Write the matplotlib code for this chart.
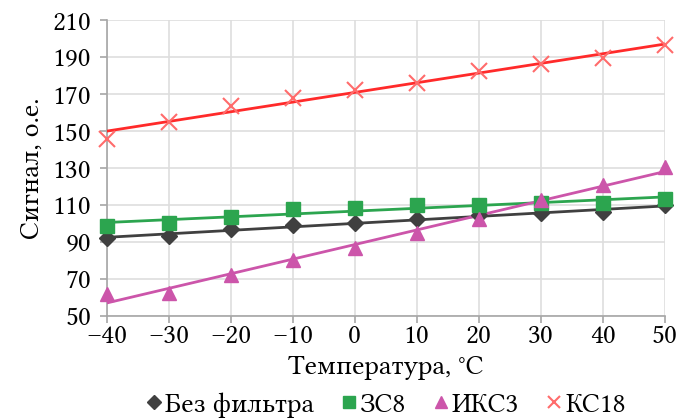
import numpy as np
import matplotlib
matplotlib.use("Agg")
import matplotlib.pyplot as plt
from matplotlib.lines import Line2D

plt.rcParams["font.family"] = ["Libertinus Serif", "Noto Serif", "DejaVu Serif"]

# ----------------------------------------------------------------------
# Data
# ----------------------------------------------------------------------
temps = [-40, -30, -20, -10, 0, 10, 20, 30, 40, 50]
no_filter = [92, 93.5, 97, 99, 100, 102.5, 104.5, 105.5, 106, 110]
zs8 = [98.5, 100.5, 103.5, 108, 108.5, 110, 110, 111, 111, 113.5]
iks3 = [62, 62.5, 72, 80.5, 87, 95, 102.5, 112.5, 121, 130.5]
ks18 = [145.5, 155, 163.5, 168, 172, 176, 182.5, 186.5, 189.5, 196.5]

labels = ["Без фильтра", "ЗС8", "ИКС3", "КС18"]
yticks = [50, 70, 90, 110, 130, 150, 170, 190, 210]

# Styling
GRAY_DARK = "#404040"
GREEN = "#2ca54f"
PINK = "#cc55aa"
RED = "#ff2a2a"
RED_LIGHT = "#ff6b6b"
GRID = "#dedede"
FS = 20

series = [
    (no_filter, GRAY_DARK, GRAY_DARK, "D", 8),
    (zs8, GREEN, GREEN, "s", 10),
    (iks3, PINK, PINK, "^", 10),
    (ks18, RED, RED_LIGHT, "x", 11),
]

fig = plt.figure(figsize=(6.81, 4.19), dpi=100)
ax = fig.add_axes([0.157, 0.246, 0.819, 0.706])

x = np.array(temps, dtype=float)
handles = []
for vals, lc, mc, mk, ms in series:
    y = np.array(vals, dtype=float)
    k, b = np.polyfit(x, y, 1)
    ax.plot(x, k * x + b, color=lc, lw=2, zorder=3)
    ax.plot(x, y, ls="none", marker=mk, ms=ms, color=mc, mec=mc,
            mew=1.5 if mk == "x" else 1, zorder=4, clip_on=False)
    handles.append(Line2D([], [], ls="none", marker=mk, color=mc, mec=mc,
                          ms=ms * 0.85, mew=1.5 if mk == "x" else 1))

ax.set_xlim(-40, 50)
ax.set_ylim(50, 210)
ax.set_xticks(temps)
ax.set_xticklabels([str(t).replace("-", "–") for t in temps])
ax.set_yticks(yticks)
ax.grid(True, color=GRID, lw=1.2)
ax.set_axisbelow(True)
for s in ["top", "right"]:
    ax.spines[s].set_visible(False)
for s in ["left", "bottom"]:
    ax.spines[s].set_color("#a6a6a6")
    ax.spines[s].set_linewidth(1.2)
ax.tick_params(axis="both", labelsize=FS, colors="#a6a6a6", labelcolor="black",
               length=5, width=1.2)
ax.tick_params(axis="x", pad=1)
ax.tick_params(axis="y", pad=6)

ax.set_xlabel("Температура, °C", fontsize=FS, labelpad=4)
ax.set_ylabel("Сигнал, о.е.", fontsize=FS, labelpad=6)

fig.legend(handles, labels, loc="center", bbox_to_anchor=(0.565, 0.034),
           ncol=4, frameon=False, fontsize=FS, handlelength=0.7,
           handletextpad=0.05, columnspacing=0.9)

fig.savefig("out.png", dpi=100)
